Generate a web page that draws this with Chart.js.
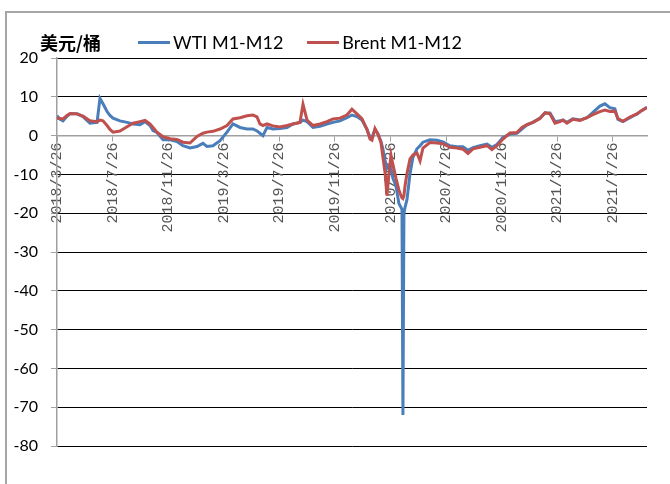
<!DOCTYPE html>
<html>
<head>
<meta charset="utf-8">
<script src="https://cdn.jsdelivr.net/npm/chart.js@4.4.1/dist/chart.umd.min.js"></script>
<style>
  body { margin: 0; background: #fff; }
  #unit { position: absolute; left: 40px; top: 29px; font: bold 18px "Noto Sans CJK SC"; line-height: 26px; color: #000; }
  #legend { position: absolute; left: 138px; top: 29px; display: flex; font: 18px Lato; line-height: 26px; color: #000; }
  .legend-item { display: flex; align-items: center; margin-right: 24px; }
  .legend-line { width: 32px; height: 3px; margin-right: 3px; }
</style>
</head>
<body>
<canvas id="spreadChart" width="670" height="484"></canvas>
<div id="unit">美元/桶</div>
<div id="legend"></div>
<script>
// x position = months since 2018/3/26
const tickLabels = ["2018/3/26", "2018/7/26", "2018/11/26", "2019/3/26", "2019/7/26", "2019/11/26",
  "2020/3/26", "2020/7/26", "2020/11/26", "2021/3/26", "2021/7/26"];

const months = [0, 0.22, 0.43, 0.72, 0.94, 1.44, 1.87, 2.37, 2.88, 3.09,
  3.31, 3.6, 3.81, 4.03, 4.53, 5.04, 5.47, 5.97, 6.33, 6.69,
  6.91, 7.19, 7.63, 8.13, 8.63, 9.06, 9.57, 10.07, 10.5, 10.79,
  11.22, 11.73, 12.23, 12.66, 13.17, 13.67, 14.1, 14.39, 14.6, 14.82,
  15.11, 15.54, 16.04, 16.55, 16.98, 17.48, 17.7, 17.99, 18.42, 18.92,
  19.42, 19.86, 20.36, 20.86, 21.22, 21.58, 21.94, 22.3, 22.52, 22.66,
  22.88, 23.09, 23.31, 23.45, 23.6, 23.74, 23.88, 24.03, 24.17, 24.39,
  24.6, 24.75, 24.82, 24.89, 24.96, 25.04, 25.18, 25.4, 25.61, 25.9,
  26.12, 26.33, 26.83, 27.34, 27.77, 28.27, 28.78, 29.21, 29.57, 29.93,
  30.43, 30.94, 31.29, 31.65, 32.09, 32.59, 33.09, 33.45, 33.81, 34.24,
  34.75, 35.11, 35.47, 35.83, 36.19, 36.4, 36.69, 37.12, 37.63, 38.13,
  38.56, 39.06, 39.42, 39.78, 40.14, 40.36, 40.72, 41.22, 41.73, 42.09,
  42.45];

const wtiSpread = [5.1, 4.2, 3.8, 5.0, 5.6, 5.6, 4.9, 3.2, 3.4, 9.6,
  8.2, 6.2, 5.2, 4.5, 3.8, 3.4, 3.0, 2.8, 3.6, 2.6,
  1.3, 0.8, -1.1, -1.1, -1.5, -2.6, -3.2, -2.8, -2.0, -2.8,
  -2.6, -1.3, 0.9, 3.0, 2.1, 1.7, 1.7, 1.2, 0.6, 0.0,
  2.1, 1.7, 1.8, 2.1, 3.0, 3.4, 4.0, 3.6, 2.1, 2.4,
  3.0, 3.4, 3.8, 4.6, 5.3, 4.9, 4.0, 1.6, -0.4, -0.5,
  1.6, 0.4, -1.5, -3.5, -6.4, -8.4, -7.8, -8.5, -11.0, -13.0,
  -17.5, -18.5, -19.0, -72.0, -20.0, -18.5, -16.5, -9.8, -5.6, -3.4,
  -2.6, -1.7, -1.1, -1.2, -1.6, -2.6, -2.9, -2.9, -3.8, -3.1,
  -2.6, -2.2, -3.0, -2.3, -0.5, 0.4, 0.6, 1.7, 2.8, 3.4,
  4.5, 5.8, 5.8, 3.6, 3.8, 4.0, 3.4, 4.3, 4.0, 4.6,
  6.0, 7.6, 8.2, 7.2, 6.9, 4.2, 3.6, 4.6, 5.6, 6.5,
  7.3];

const brentSpread = [4.5, 4.4, 4.3, 5.2, 5.7, 5.6, 5.0, 3.8, 3.6, 4.0,
  3.8, 2.6, 1.6, 0.9, 1.2, 2.3, 3.2, 3.6, 3.9, 3.0,
  2.1, 0.9, -0.3, -0.8, -1.0, -1.7, -1.9, -0.2, 0.6, 0.9,
  1.1, 1.7, 2.6, 4.3, 4.6, 5.1, 5.3, 4.8, 3.0, 2.6,
  3.0, 2.5, 2.2, 2.6, 3.0, 3.4, 8.1, 4.0, 2.6, 3.0,
  3.6, 4.3, 4.5, 5.3, 6.8, 5.6, 4.4, 1.6, -0.9, -1.2,
  1.8, 0.4, -1.8, -5.6, -9.5, -15.5, -10.0, -5.0, -7.5, -11.0,
  -14.0, -15.5, -16.0, -16.2, -15.5, -13.0, -9.8, -6.0, -5.0, -4.5,
  -6.5, -3.2, -1.8, -1.9, -2.1, -3.0, -3.2, -3.5, -4.6, -3.4,
  -3.0, -2.6, -3.6, -2.6, -0.9, 0.7, 0.8, 2.1, 2.8, 3.4,
  4.4, 5.9, 5.6, 3.2, 3.6, 4.0, 3.2, 4.2, 3.9, 4.6,
  5.4, 6.2, 6.6, 6.2, 6.3, 4.4, 3.7, 4.8, 5.6, 6.5,
  7.2];

const seriesNames = ["WTI M1-M12", "Brent M1-M12"];
const seriesColors = ["#4a7ebb", "#c0504d"];

function toPoints(values) {
  return values.map((value, i) => ({ x: months[i], y: value }));
}

// gray outer frame of the picture
const framePlugin = {
  id: "outerFrame",
  beforeDraw(chart) {
    const ctx = chart.ctx;
    ctx.save();
    ctx.strokeStyle = "#a6a6a6";
    ctx.lineWidth = 2;
    ctx.strokeRect(6, 12, 700, 520);
    ctx.restore();
  }
};

const spreadChart = new Chart(document.getElementById("spreadChart"), {
  type: "line",
  data: {
    datasets: [
      { label: seriesNames[1], data: toPoints(brentSpread), borderColor: seriesColors[1], borderWidth: 3, pointRadius: 0 },
      { label: seriesNames[0], data: toPoints(wtiSpread), borderColor: seriesColors[0], borderWidth: 3, pointRadius: 0 }
    ]
  },
  options: {
    responsive: false,
    animation: false,
    layout: { padding: { left: 0, top: 58, right: 23, bottom: 38 } },
    plugins: { legend: { display: false }, tooltip: { enabled: false } },
    scales: {
      x: {
        type: "linear",
        min: 0,
        max: 42.45,
        position: { y: 0 },
        grid: { drawOnChartArea: false, tickLength: 5, tickColor: "#a0a0a0" },
        border: { color: "#a0a0a0", width: 1.5 },
        ticks: {
          stepSize: 4,
          includeBounds: false,
          autoSkip: false,
          minRotation: 90,
          maxRotation: 90,
          padding: 2,
          color: "#555",
          font: { family: "Liberation Mono", size: 15 },
          callback: (value) => tickLabels[Math.round(value / 4)]
        }
      },
      y: {
        min: -80,
        max: 20,
        grid: { color: "#000", lineWidth: 1, tickLength: 6, tickColor: "#a0a0a0" },
        border: { color: "#a0a0a0", width: 1.5 },
        ticks: { stepSize: 10, padding: 13, color: "#000", font: { family: "Lato", size: 16 } },
        afterFit: (scale) => { scale.width = 57; }
      }
    }
  },
  plugins: [framePlugin]
});

// legend row beside the unit label, WTI first as in the source
const legendEl = document.getElementById("legend");
spreadChart.data.datasets.slice().reverse().forEach((dataset) => {
  const item = document.createElement("div");
  item.className = "legend-item";
  const line = document.createElement("span");
  line.className = "legend-line";
  line.style.background = dataset.borderColor;
  const text = document.createElement("span");
  text.textContent = dataset.label;
  item.append(line, text);
  legendEl.append(item);
});
</script>
</body>
</html>
